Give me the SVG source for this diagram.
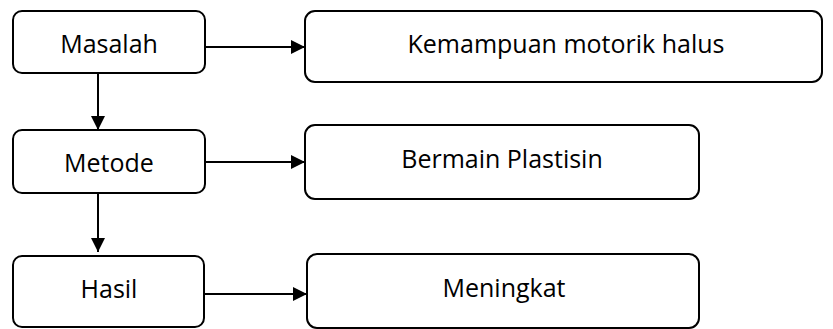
<svg xmlns="http://www.w3.org/2000/svg" width="833" height="329" viewBox="0 0 833 329">
<style>
.box{fill:#fff;stroke:#000;stroke-width:2}
.lbl{font-family:"Open Sans","Noto Sans",sans-serif;font-size:25px;fill:#000;text-anchor:middle}
.con{stroke:#000;stroke-width:2;fill:none}
</style>
<defs>
<marker id="ah" viewBox="0 0 14 14" refX="14" refY="7" markerWidth="14" markerHeight="14" markerUnits="userSpaceOnUse" orient="auto">
<path d="M0,0 L14,7 L0,14 Z" fill="#000"/>
</marker>
</defs>
<rect width="833" height="329" fill="#fff"/>
<g id="connectors">
<line class="con" x1="205" y1="47" x2="305" y2="47" marker-end="url(#ah)"/>
<line class="con" x1="98" y1="73" x2="98" y2="130" marker-end="url(#ah)"/>
<line class="con" x1="205" y1="162" x2="305" y2="162" marker-end="url(#ah)"/>
<line class="con" x1="98" y1="193" x2="98" y2="252" marker-end="url(#ah)"/>
<line class="con" x1="204" y1="294" x2="307" y2="294" marker-end="url(#ah)"/>
</g>
<g id="masalah">
<rect class="box" x="13" y="11" width="192" height="62" rx="9"/>
<text class="lbl" x="109" y="53">Masalah</text>
</g>
<g id="kemampuan">
<rect class="box" x="305" y="11" width="517" height="71" rx="10"/>
<text class="lbl" x="566" y="53">Kemampuan motorik halus</text>
</g>
<g id="metode">
<rect class="box" x="13" y="130" width="192" height="63" rx="9"/>
<text class="lbl" x="109" y="172">Metode</text>
</g>
<g id="bermain">
<rect class="box" x="305" y="125" width="394" height="74" rx="10"/>
<text class="lbl" x="502" y="168">Bermain Plastisin</text>
</g>
<g id="hasil">
<rect class="box" x="13" y="256" width="191" height="71" rx="9"/>
<text class="lbl" x="109" y="298">Hasil</text>
</g>
<g id="meningkat">
<rect class="box" x="307" y="254" width="392" height="74" rx="10"/>
<text class="lbl" x="504" y="297">Meningkat</text>
</g>
</svg>
